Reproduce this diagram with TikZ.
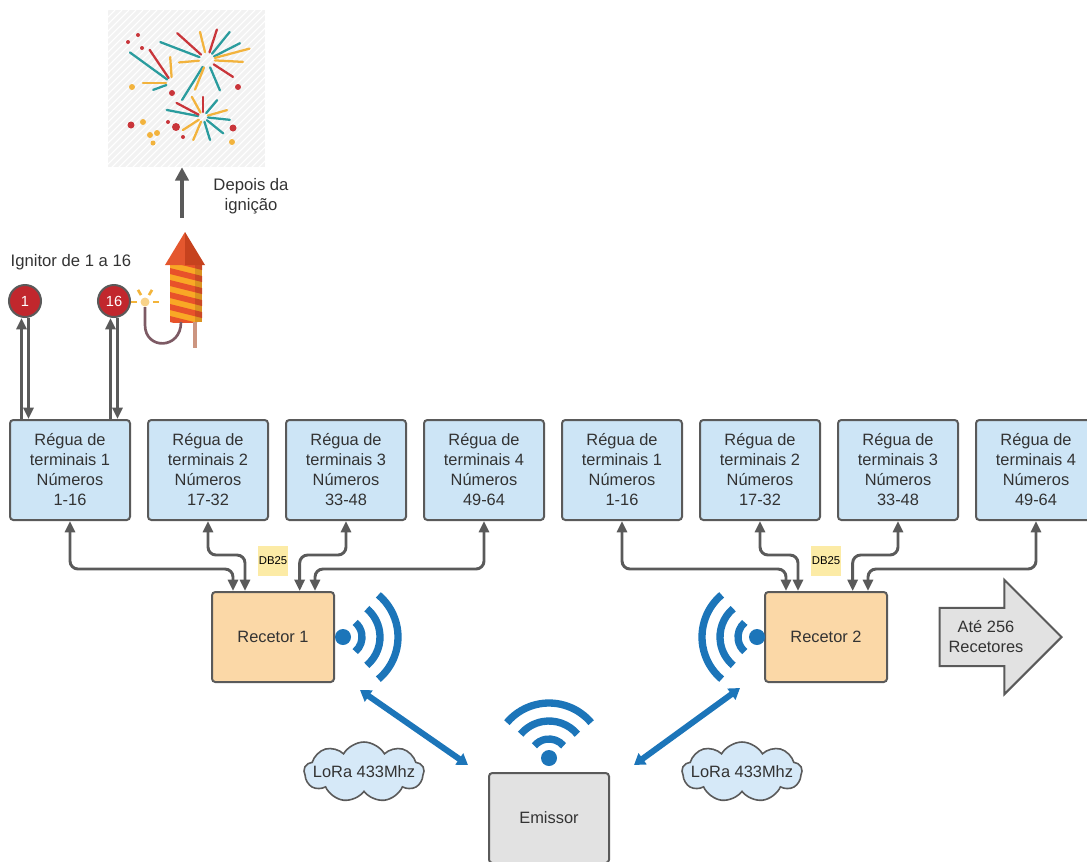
\documentclass[tikz,border=0pt]{standalone}
\usepackage{fontspec}
\setmainfont{Liberation Sans}
\usepackage{xcolor}
\definecolor{lineDark}{HTML}{5A5A5A}
\definecolor{textDark}{HTML}{333333}
\definecolor{reguaBg}{HTML}{CDE5F6}
\definecolor{recetorBg}{HTML}{FBD8A7}
\definecolor{emissorBg}{HTML}{E2E2E2}
\definecolor{noteBg}{HTML}{FCEBA6}
\definecolor{wifiBlue}{HTML}{1C75B9}
\definecolor{cloudBg}{HTML}{D6E9F8}
\definecolor{ignitorRed}{HTML}{C1272D}
\definecolor{fwTeal}{HTML}{2A9C9E}
\definecolor{fwRed}{HTML}{C9353A}
\definecolor{fwGold}{HTML}{F2B33D}
\definecolor{rocketGold}{HTML}{F9A825}
\definecolor{rocketRed}{HTML}{E8522A}
\definecolor{noseLight}{HTML}{E4572E}
\definecolor{noseDark}{HTML}{C6421E}
\definecolor{stickPink}{HTML}{CC9580}
\definecolor{fuseBrown}{HTML}{7D5A64}
\definecolor{sparkGold}{HTML}{F3B43A}
\usepackage{tikz}
\usetikzlibrary{shapes,arrows.meta,positioning}
\tikzset{%
  reguaBox/.style={%
    rectangle,
    rounded corners=2.5pt,
    draw=lineDark,
    line width=1.5pt,
    fill=reguaBg,
    text=textDark,
    minimum width=90pt,
    minimum height=75pt,
    align=center,
    font=\fontsize{12.3}{15}\selectfont
  },
  recetorBox/.style={%
    reguaBox,
    fill=recetorBg,
    minimum width=91.5pt,
    minimum height=67.5pt
  },
  emissorBox/.style={%
    recetorBox,
    fill=emissorBg,
    minimum width=90pt
  },
  dbNote/.style={%
    rectangle,
    fill=noteBg,
    minimum size=22.5pt,
    inner sep=0pt,
    text=black,
    font=\fontsize{8.5}{10}\selectfont
  },
  ignitorDot/.style={%
    circle,
    draw=lineDark,
    line width=1.5pt,
    fill=ignitorRed,
    text=white,
    minimum size=24pt,
    inner sep=0pt,
    font=\fontsize{11}{12}\selectfont
  },
  plainLabel/.style={%
    text=textDark,
    align=center,
    font=\fontsize{12.5}{15}\selectfont
  },
  loraCloud/.style={%
    cloud,
    cloud puffs=9,
    cloud puff arc=120,
    aspect=2,
    draw=lineDark,
    line width=1.2pt,
    fill=cloudBg,
    minimum width=90pt,
    minimum height=45pt,
    inner sep=0pt
  },
  moreArrow/.style={%
    single arrow,
    single arrow head extend=21pt,
    draw=lineDark,
    line width=1.5pt,
    fill=emissorBg,
    minimum height=91.5pt,
    inner xsep=4pt,
    inner ysep=9pt,
    align=center,
    text=textDark,
    font=\fontsize{12.3}{15}\selectfont
  },
  arrowLine/.style={%
    <->,
    line width=2.2pt,
    draw=lineDark,
    rounded corners=6pt
  },
  riseArrow/.style={%
    -{Triangle[length=10pt,width=10pt]},
    line width=3pt,
    draw=lineDark
  },
  loraLink/.style={%
    {Triangle[length=8pt,width=10pt]}-{Triangle[length=8pt,width=10pt]},
    line width=4.5pt,
    draw=wifiBlue
  },
  fireRay/.style={%
    line width=1.7pt,
    line cap=round
  },
  wifiSign/.pic={%
    \fill[wifiBlue] (0,0) circle (8);
    \foreach \r in {19,37,55}
      \draw[wifiBlue, line width=5.5pt] (-50:\r) arc[start angle=-50, end angle=50, radius=\r];
  }
}

\begin{document}
\begin{tikzpicture}[x=0.75pt, y=0.75pt, >={Triangle[length=8.5pt,width=7.5pt]}]
  \useasboundingbox (0,0) rectangle (1087,-861);

  % fireworks panel
  \node[rectangle, fill=black!5, minimum width=117.75pt, minimum height=117.75pt, inner sep=0pt] (fireworks) at (186.5,-88.5) {};
  \begin{scope}
    \clip (fireworks.south west) rectangle (fireworks.north east);
    \foreach \k in {0,7,...,330}
      \draw[white, line width=0.8pt] (108+\k,-10) -- ++(-170,-170);
  \end{scope}
  \foreach \a/\l/\c in {159/50/fwTeal, 138/40/fwRed, 104/29/fwGold, 72/32/fwRed, 51/36/fwTeal,
                        27/37/fwTeal, 15/44/fwGold, -3/36/fwGold, -33/31/fwRed, -67/33/fwTeal,
                        -122/47/fwTeal, -112/32/fwGold, 185/28/fwGold}
    \draw[fireRay, draw=\c, shift={(207,-60)}] (\a:8) -- (\a:\l);
  \foreach \a/\l/\c in {144/52/fwTeal, 124/40/fwRed, 94/26/fwGold, 180/29/fwGold, 200/20/fwTeal}
    \draw[fireRay, draw=\c, shift={(172,-83)}] (\a:6) -- (\a:\l);
  \foreach \a/\l/\c in {169/37/fwTeal, 152/30/fwRed, 119/23/fwGold, 90/20/fwRed, 50/22/fwTeal,
                        16/25/fwGold, -6/27/fwTeal, -39/26/fwTeal, -73/24/fwTeal, -113/25/fwGold,
                        -147/24/fwGold}
    \draw[fireRay, draw=\c, shift={(203,-117)}] (\a:5) -- (\a:\l);
  \foreach \x/\y/\r/\c in {128/-42/2/fwRed, 138/-35/2/fwRed, 142/-48/2/fwRed, 132/-87/3/fwGold,
                           172/-93/3/fwRed, 238/-87/3/fwRed, 131/-125/3.5/fwRed, 143/-122/3/fwGold,
                           150/-135/3/fwGold, 157/-133/3/fwGold, 153/-143/2.5/fwGold, 176/-127/4/fwRed,
                           168/-122/2/fwRed, 183/-137/2/fwRed, 233/-128/3.5/fwRed, 232/-142/3/fwGold}
    \fill[fill=\c] (\x,\y) circle (\r);

  \node[plainLabel] (depoisLabel) at (251,-196) {Depois da\\ignição};
  \coordinate (rocketNose) at (182,-218);
  \draw[riseArrow] (rocketNose) -- (rocketNose |- fireworks.south);

  % rocket with fuse
  \begin{scope}
    \clip (170,-262) rectangle (202,-322);
    \fill[rocketGold] (170,-262) rectangle (202,-322);
    \foreach \s in {0,12,...,72}
      \fill[rocketRed] (170,-256-\s) -- (202,-264-\s) -- (202,-270-\s) -- (170,-262-\s) -- cycle;
    \fill[black, opacity=0.12] (195,-262) rectangle (202,-322);
  \end{scope}
  \fill[noseLight] (165,-265) -- (185,-232) -- (185,-265) -- cycle;
  \fill[noseDark] (185,-232) -- (205,-265) -- (185,-265) -- cycle;
  \draw[stickPink, line width=2.5pt] (195,-322) -- (195,-348);
  \draw[fuseBrown, line width=2pt] (181,-322) .. controls (181,-350) and (145,-350) .. (145,-325) -- (145,-307);
  \fill[sparkGold!60] (145,-302) circle (4.5);
  \foreach \a in {0,60,120,180}
    \draw[sparkGold, line width=2pt, shift={(145,-302)}] (\a:8) -- (\a:14);

  % ignitors
  \node[plainLabel, anchor=west] (ignLabel) at (6,-262) {Ignitor de 1 a 16};
  \node[ignitorDot] (ign1) at (25,-301) {1};
  \node[ignitorDot] (ign16) at (114,-301) {16};

  % terminal strips and receivers
  \node[reguaBox] (regA1) at (70,-470) {Régua de\\terminais 1\\Números\\1-16};
  \node[reguaBox, right=12pt of regA1] (regA2) {Régua de\\terminais 2\\Números\\17-32};
  \node[reguaBox, right=12pt of regA2] (regA3) {Régua de\\terminais 3\\Números\\33-48};
  \node[reguaBox, right=12pt of regA3] (regA4) {Régua de\\terminais 4\\Números\\49-64};
  \node[reguaBox] (regB1) at (622,-470) {Régua de\\terminais 1\\Números\\1-16};
  \node[reguaBox, right=12pt of regB1] (regB2) {Régua de\\terminais 2\\Números\\17-32};
  \node[reguaBox, right=12pt of regB2] (regB3) {Régua de\\terminais 3\\Números\\33-48};
  \node[reguaBox, right=12pt of regB3] (regB4) {Régua de\\terminais 4\\Números\\49-64};

  \node[recetorBox] (recetorA) at (273,-637) {Recetor 1};
  \node[recetorBox] (recetorB) at (826,-637) {Recetor 2};
  \node[dbNote, above=11pt of recetorA] (dbA) {DB25};
  \node[dbNote, above=11pt of recetorB] (dbB) {DB25};

  \draw[arrowLine, <-] ([xshift=-2.6pt]ign1.south) -- ([xshift=-2.6pt]ign1.south |- regA1.north);
  \draw[arrowLine, ->] ([xshift=2.6pt]ign1.south) -- ([xshift=2.6pt]ign1.south |- regA1.north);
  \draw[arrowLine, <-] ([xshift=-2.6pt]ign16.south) -- ([xshift=-2.6pt]ign16.south |- regA1.north);
  \draw[arrowLine, ->] ([xshift=2.6pt]ign16.south) -- ([xshift=2.6pt]ign16.south |- regA1.north);

  \foreach \g in {A,B} {
    \draw[arrowLine] (reg\g1.south) |- ([xshift=-30pt, yshift=16.5pt]recetor\g.north) -- ([xshift=-30pt]recetor\g.north);
    \draw[arrowLine] (reg\g2.south) |- ([xshift=-21pt, yshift=27pt]recetor\g.north) -- ([xshift=-21pt]recetor\g.north);
    \draw[arrowLine] (reg\g3.south) |- ([xshift=20pt, yshift=27pt]recetor\g.north) -- ([xshift=20pt]recetor\g.north);
    \draw[arrowLine] (reg\g4.south) |- ([xshift=31.5pt, yshift=16.5pt]recetor\g.north) -- ([xshift=31.5pt]recetor\g.north);
  }

  \node[moreArrow] (maisRecetores) at (986,-637) {Até 256\\Recetores};

  % radio link
  \node[emissorBox] (emissor) at (549,-818) {Emissor};
  \pic (wifiA) at (343,-637) {wifiSign};
  \pic[rotate=180] (wifiB) at (757,-637) {wifiSign};
  \pic[rotate=90] (wifiE) at (549,-758) {wifiSign};

  \coordinate (loraA1) at (360,-690);
  \coordinate (loraA2) at (468,-765);
  \coordinate (loraB1) at (740,-688);
  \coordinate (loraB2) at (634,-765);
  \draw[loraLink] (loraA1) -- (loraA2);
  \draw[loraLink] (loraB1) -- (loraB2);

  \node[loraCloud, label={[plainLabel, font=\fontsize{12.3}{14}\selectfont]center:LoRa 433Mhz}] (cloudA) at (364,-772) {};
  \node[loraCloud, label={[plainLabel, font=\fontsize{12.3}{14}\selectfont]center:LoRa 433Mhz}] (cloudB) at (742,-772) {};
\end{tikzpicture}
\end{document}
